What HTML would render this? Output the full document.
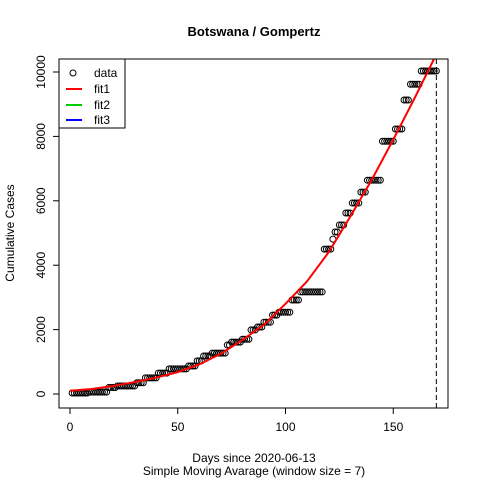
<!DOCTYPE html>
<html><head><meta charset="utf-8"><style>
body{margin:0;background:#fff;}
svg{font-family:"Liberation Sans",Arial,sans-serif;}
</style></head><body>
<svg id="chart" width="480" height="480" viewBox="0 0 480 480">
<rect width="480" height="480" fill="#fff"/>
<text x="254" y="36" text-anchor="middle" font-weight="bold" font-size="13">Botswana / Gompertz</text>
<defs><clipPath id="pc"><rect x="59" y="59" width="389" height="349"/></clipPath></defs>
<g id="marks" clip-path="url(#pc)"></g>
<g id="axes"></g>
<rect x="59" y="59" width="389" height="349" fill="none" stroke="#000"/>
<text x="254" y="462" text-anchor="middle" font-size="12">Days since 2020-06-13</text>
<text x="254" y="475" text-anchor="middle" font-size="12">Simple Moving Avarage (window size = 7)</text>
<text transform="translate(14,233) rotate(-90)" text-anchor="middle" font-size="12">Cumulative Cases</text>
<g>
<rect x="59" y="59" width="66" height="69" fill="#fff" stroke="#000"/>
<circle cx="73" cy="73" r="3" fill="none" stroke="#000"/>
<text x="94" y="77" font-size="12">data</text>
<line x1="66" x2="82" y1="89" y2="89" stroke="#f00" stroke-width="2"/>
<text x="94" y="93" font-size="12">fit1</text>
<line x1="66" x2="82" y1="105" y2="105" stroke="#0c0" stroke-width="2"/>
<text x="94" y="109" font-size="12">fit2</text>
<line x1="66" x2="82" y1="120" y2="120" stroke="#00f" stroke-width="2"/>
<text x="94" y="124" font-size="12">fit3</text>
</g>
</svg>
<script>
const levels=[30,60,200,250,350,500,650,780,870,1030,1180,1270,1520,1610,1700,1990,2080,2230,2450,2540,2920,3170,4500,4810,5030,5250,5620,5930,6270,6640,7850,8230,9130,9620,10030];
const runLengths=[8,9,4,9,4,6,5,9,4,3,4,7,2,5,4,3,3,4,3,6,4,11,4,1,2,3,3,4,3,7,6,4,3,5,8];
const fitDays=[0,10,20,30,40,50,60,70,80,90,100,110,120,130,140,150,160,170];
const fitValues=[100,155,250,370,510,680,920,1250,1680,2150,2800,3500,4400,5500,6650,7900,9200,10550];
const xTicks=[0,50,100,150];
const yTicks=[0,2000,4000,6000,8000,10000];
const cutoffDay=170;

const NS="http://www.w3.org/2000/svg";
const sx=d=>70+d*2.155;
const sy=v=>394-v*0.0322;
const marks=document.getElementById('marks');
const axes=document.getElementById('axes');
function mk(tag,attrs,parent){const e=document.createElementNS(NS,tag);for(const k in attrs)e.setAttribute(k,attrs[k]);parent.appendChild(e);return e;}

let day=1;
levels.forEach((lv,i)=>{
  for(let j=0;j<runLengths[i];j++){
    const c=mk('circle',{cx:sx(day),cy:sy(lv),r:3,fill:'none',stroke:'#000','stroke-width':1},marks);
    
    
    day++;
  }
});
const pts=fitDays.map((d,i)=>sx(d)+','+sy(fitValues[i])).join(' ');
const fl=mk('polyline',{points:pts,fill:'none',stroke:'#f00','stroke-width':2,'stroke-linejoin':'round'},marks);


const cl=mk('line',{x1:sx(cutoffDay),x2:sx(cutoffDay),y1:59,y2:408,stroke:'#000','stroke-dasharray':'5,3'},marks);



mk('line',{x1:sx(xTicks[0]),x2:sx(xTicks[xTicks.length-1]),y1:408,y2:408,stroke:'#000'},axes);
xTicks.forEach(t=>{
  mk('line',{x1:sx(t),x2:sx(t),y1:408,y2:414,stroke:'#000'},axes);
  const tx=mk('text',{x:sx(t),y:431,'text-anchor':'middle','font-size':12},axes);
  tx.textContent=t;
  
  
});
yTicks.forEach(t=>{
  mk('line',{x1:53,x2:59,y1:sy(t),y2:sy(t),stroke:'#000'},axes);
  const tx=mk('text',{transform:`translate(45,${sy(t)}) rotate(-90)`,'text-anchor':'middle','font-size':12},axes);
  tx.textContent=t;
  
  
});
</script>
</body></html>
